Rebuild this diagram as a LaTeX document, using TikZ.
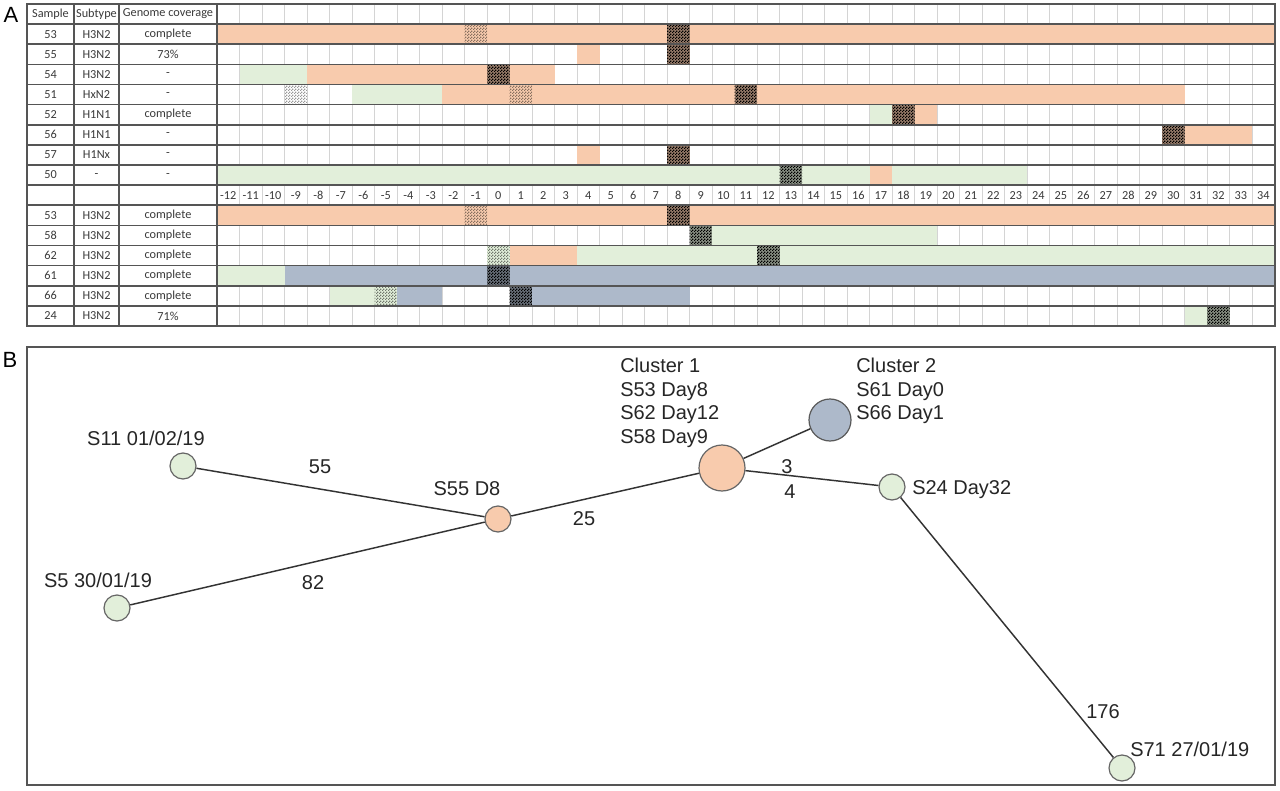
\documentclass[tikz,border=0pt]{standalone}
\usepackage{fontspec}
\setmainfont{Liberation Sans}
\newfontfamily\calfont{Carlito}
\usetikzlibrary{patterns}

\definecolor{org}{HTML}{F8CBAD}
\definecolor{grn}{HTML}{E2EFDA}
\definecolor{blu}{HTML}{ADB9CA}
\definecolor{rowline}{HTML}{555555}
\definecolor{gridc}{HTML}{D4D4D4}
\definecolor{txtc}{HTML}{3A3A3A}

\pgfdeclarepatternformonly{finechk}{\pgfqpoint{0pt}{0pt}}{\pgfqpoint{2pt}{2pt}}{\pgfqpoint{2pt}{2pt}}{%
  \pgfpathrectangle{\pgfqpoint{0pt}{0pt}}{\pgfqpoint{1pt}{1pt}}%
  \pgfpathrectangle{\pgfqpoint{1pt}{1pt}}{\pgfqpoint{1pt}{1pt}}%
  \pgfusepath{fill}}

% row, from day, to day, colour
\newcommand\tbar[4]{\fill[#4] ({217+(#2+12)*22.5},{4+#1*20.125}) rectangle ({217+(#3+13)*22.5},{4+(#1+1)*20.125});}
% dark checker: row, day, colour
\newcommand\dchk[3]{%
  \fill[#3!60!black] ({217+(#2+12)*22.5},{4+#1*20.125}) rectangle ({217+(#2+13)*22.5},{4+(#1+1)*20.125});
  \fill[pattern=finechk, pattern color=black] ({217+(#2+12)*22.5},{4+#1*20.125}) rectangle ({217+(#2+13)*22.5},{4+(#1+1)*20.125});}
% light checker: row, day, base colour, dot colour
\newcommand\lchk[4]{%
  \fill[#3] ({217+(#2+12)*22.5},{4+#1*20.125}) rectangle ({217+(#2+13)*22.5},{4+(#1+1)*20.125});
  \fill[pattern=finechk, pattern color=#4] ({217+(#2+12)*22.5},{4+#1*20.125}) rectangle ({217+(#2+13)*22.5},{4+(#1+1)*20.125});}

\begin{document}
\begin{tikzpicture}[x=0.75pt, y=-0.75pt,
  tt/.style={font=\calfont\fontsize{9.2}{11}\selectfont, text=txtc, inner sep=0pt},
  lab/.style={font=\fontsize{15}{18}\selectfont, text=black!85, inner sep=0pt},
  panlab/.style={font=\fontsize{16.5}{19}\selectfont, inner sep=0pt},
  gcirc/.style={circle, draw=black!60, fill=grn, line width=0.9pt, inner sep=0pt, minimum size=19.5pt},
  ocirc/.style={circle, draw=black!60, fill=org, line width=0.9pt, inner sep=0pt, minimum size=19.5pt},
  bcirc/.style={circle, draw=black!65, fill=blu, line width=0.9pt, inner sep=0pt, minimum size=31.5pt},
  edge/.style={draw=black!80, line width=1.1pt}]
\useasboundingbox (0,0) rectangle (1280,791);
\fill[white] (0,0) rectangle (1280,791);

% ---------- Panel A ----------
\node[panlab] (labA) at (11,15) {A};
\foreach \k in {1,...,46} \draw[gridc, line width=0.6pt] ({217+\k*22.5},4) -- ({217+\k*22.5},326);

% bars
\tbar{1}{-12}{34}{org} \lchk{1}{-1}{org}{org!55!black} \dchk{1}{8}{org}
\tbar{2}{4}{4}{org} \dchk{2}{8}{org}
\tbar{3}{-11}{-9}{grn} \tbar{3}{-8}{2}{org} \dchk{3}{0}{org}
\lchk{4}{-9}{white}{black!40} \tbar{4}{-6}{-3}{grn} \tbar{4}{-2}{30}{org} \lchk{4}{1}{org}{org!55!black} \dchk{4}{11}{org}
\tbar{5}{17}{17}{grn} \dchk{5}{18}{org} \tbar{5}{19}{19}{org}
\dchk{6}{30}{org} \tbar{6}{31}{33}{org}
\tbar{7}{4}{4}{org} \dchk{7}{8}{org}
\tbar{8}{-12}{23}{grn} \dchk{8}{13}{grn} \tbar{8}{17}{17}{org}
\tbar{10}{-12}{34}{org} \lchk{10}{-1}{org}{org!55!black} \dchk{10}{8}{org}
\dchk{11}{9}{grn} \tbar{11}{10}{19}{grn}
\lchk{12}{0}{grn}{grn!50!black} \tbar{12}{1}{3}{org} \tbar{12}{4}{34}{grn} \dchk{12}{12}{grn}
\tbar{13}{-12}{-10}{grn} \tbar{13}{-9}{34}{blu} \dchk{13}{0}{blu}
\tbar{14}{-7}{-6}{grn} \lchk{14}{-5}{grn}{grn!50!black} \tbar{14}{-4}{-3}{blu} \dchk{14}{1}{blu} \tbar{14}{2}{8}{blu}
\tbar{15}{31}{31}{grn} \dchk{15}{32}{grn}

% lines
\foreach \r in {1,...,15} \draw[rowline, line width=1.3pt] (27,{4+\r*20.125}) -- (1275,{4+\r*20.125});
\foreach \xx in {74,119,217} \draw[rowline, line width=1.6pt] (\xx,4) -- (\xx,326);
\draw[rowline, line width=1.5pt] (27,4) rectangle (1275,326);

% header
\node[tt] (hsam) at (50.5,14) {Sample};
\node[tt] (hsub) at (96.5,14) {Subtype};
\node[tt] (hcov) at (168,14) {Genome coverage};

% rows
\foreach \r/\s/\t/\g in {1/53/H3N2/complete, 2/55/H3N2/73\%, 3/54/H3N2/-, 4/51/HxN2/-,
  5/52/H1N1/complete, 6/56/H1N1/-, 7/57/H1Nx/-, 8/50/-/-,
  10/53/H3N2/complete, 11/58/H3N2/complete, 12/62/H3N2/complete,
  13/61/H3N2/complete, 14/66/H3N2/complete, 15/24/H3N2/71\%}{
  \node[tt] (sa\r) at (50.5,{4+(\r+0.5)*20.125}) {\s};
  \node[tt] (su\r) at (96.5,{4+(\r+0.5)*20.125}) {\t};
  \node[tt] (co\r) at (168,{4+(\r+0.5)*20.125}) {\g};
}
% day axis
\foreach \d [count=\k] in {-12,...,34}
  \node[tt] (ax\k) at ({217+(\d+12.5)*22.5},{4+9.5*20.125}) {\d};

% ---------- Panel B ----------
\node[panlab] (labB) at (10,360) {B};
\draw[rowline, line width=1.4pt] (27,347) rectangle (1275,785);

\node[gcirc] (s11) at (183,466) {};
\node[gcirc] (s5) at (117,608) {};
\node[ocirc] (s55) at (498,519) {};
\node[ocirc, minimum size=34.5pt] (c1) at (722,468) {};
\node[bcirc] (c2) at (830,420) {};
\node[gcirc] (s24) at (892,487) {};
\node[gcirc] (s71) at (1122,768) {};

\draw[edge] (s11) -- (s55);
\draw[edge] (s5) -- (s55);
\draw[edge] (s55) -- (c1);
\draw[edge] (c1) -- (c2);
\draw[edge] (c1) -- (s24);
\draw[edge] (s24) -- (s71);

\node[lab] (t11) at (146,438) {S11 01/02/19};
\node[lab] (t5) at (98,580) {S5 30/01/19};
\node[lab] (t55) at (467,489) {S55 D8};
\node[lab, anchor=base west] (tc1a) at (620,372) {Cluster 1};
\node[lab, anchor=base west] (tc1b) at (620,396) {S53 Day8};
\node[lab, anchor=base west] (tc1c) at (620,419) {S62 Day12};
\node[lab, anchor=base west] (tc1d) at (620,443) {S58 Day9};
\node[lab, anchor=base west] (tc2a) at (856,372) {Cluster 2};
\node[lab, anchor=base west] (tc2b) at (856,396) {S61 Day0};
\node[lab, anchor=base west] (tc2c) at (856,419) {S66 Day1};
\node[lab, anchor=base west] (t24) at (912,494) {S24 Day32};
\node[lab, anchor=base west] (t71) at (1130,756) {S71 27/01/19};

\node[lab] (e55) at (320,467) {55};
\node[lab] (e82) at (313,583) {82};
\node[lab] (e25) at (584,519) {25};
\node[lab] (e3) at (787,467) {3};
\node[lab] (e4) at (790,492) {4};
\node[lab] (e176) at (1103,712) {176};
\end{tikzpicture}
\end{document}
